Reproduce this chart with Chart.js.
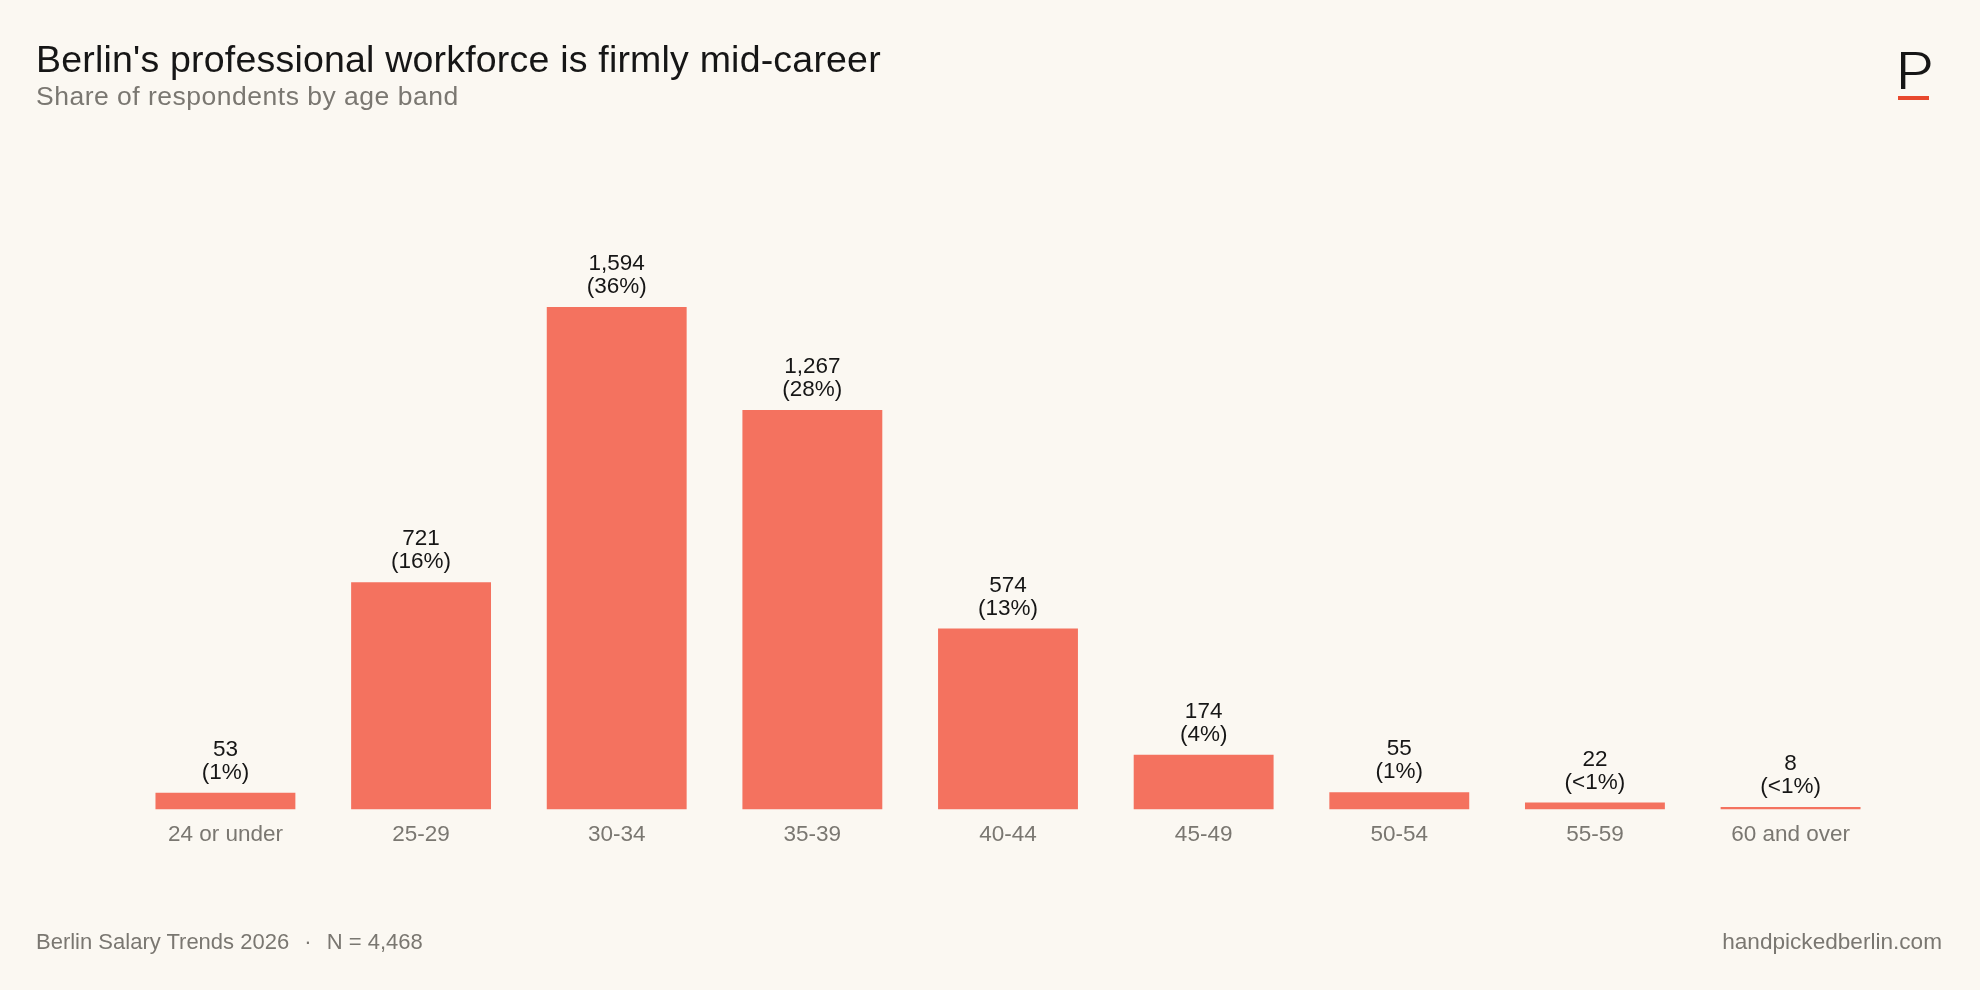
<!DOCTYPE html>
<html>
<head>
<meta charset="utf-8">
<script src="https://cdn.jsdelivr.net/npm/chart.js@4/dist/chart.umd.min.js"></script>
<style>
  html, body { margin: 0; padding: 0; background: #FBF8F2; }
  body { width: 1980px; height: 990px; position: relative; overflow: hidden; font-family: "Liberation Sans", Arial, Helvetica, sans-serif; }
  #wrap { position: absolute; left: 0; top: 0; width: 1980px; height: 990px; }
  .t { position: absolute; white-space: nowrap; line-height: 1; }
  #title { left: 36px; top: 41px; font-size: 37.5px; color: #161616; letter-spacing: 0.2px; }
  #subtitle { left: 36px; top: 83px; font-size: 26.5px; color: #7a7771; letter-spacing: 0.5px; }
  #logo { left: 1895px; top: 46px; font-family: Inter, "Noto Sans", sans-serif; font-weight: 300; font-size: 50px; color: #161616; transform: scaleX(1.25); transform-origin: left top; }
  #logoline { position: absolute; left: 1898px; top: 96px; width: 31px; height: 4px; background: #E8492E; }
  #foot-left { left: 36px; top: 931px; font-size: 22px; color: #7a7771; }
  #foot-right { right: 38px; top: 931px; font-size: 22.6px; color: #7a7771; }
  .sep { padding: 0 9px; }
</style>
</head>
<body>
<div id="wrap"><canvas id="c" width="1980" height="990"></canvas></div>
<div class="t" id="title">Berlin's professional workforce is firmly mid-career</div>
<div class="t" id="subtitle">Share of respondents by age band</div>
<div class="t" id="logo">P</div>
<div id="logoline"></div>
<div class="t" id="foot-left">Berlin Salary Trends 2026 <span class="sep">·</span> N = 4,468</div>
<div class="t" id="foot-right">handpickedberlin.com</div>
<script>
const categories = ["24 or under", "25-29", "30-34", "35-39", "40-44", "45-49", "50-54", "55-59", "60 and over"];
const respondents = [53, 721, 1594, 1267, 574, 174, 55, 22, 8];
const shareLabels = ["1%", "16%", "36%", "28%", "13%", "4%", "1%", "<1%", "<1%"];

const barLabels = {
  id: 'barLabels',
  afterDatasetsDraw(chart) {
    const ctx = chart.ctx;
    const meta = chart.getDatasetMeta(0);
    ctx.save();
    ctx.fillStyle = '#161616';
    ctx.font = '22.5px "Liberation Sans", Arial, sans-serif';
    ctx.textAlign = 'center';
    ctx.textBaseline = 'alphabetic';
    meta.data.forEach((bar, i) => {
      const v = respondents[i];
      ctx.fillText(v.toLocaleString('en-US'), bar.x, bar.y - 37);
      ctx.fillText('(' + shareLabels[i] + ')', bar.x, bar.y - 14);
    });
    ctx.restore();
  }
};

new Chart(document.getElementById('c'), {
  type: 'bar',
  data: {
    labels: categories,
    datasets: [{
      data: respondents,
      backgroundColor: '#F4725F',
      borderWidth: 0,
      barPercentage: 0.715,
      categoryPercentage: 1.0
    }]
  },
  options: {
    responsive: false,
    animation: false,
    devicePixelRatio: 1,
    layout: { padding: { left: 127.6, right: 91.6, top: 242, bottom: 130 } },
    plugins: { legend: { display: false }, tooltip: { enabled: false }, title: { display: false } },
    scales: {
      x: {
        grid: { display: false, drawTicks: false },
        border: { display: false },
        ticks: { color: '#7a7771', font: { family: '"Liberation Sans", Arial, sans-serif', size: 22.5 }, padding: 12, maxRotation: 0, autoSkip: false },
        afterFit(scale) { scale.height = 50.5; }
      },
      y: {
        display: false,
        min: 0,
        max: 1800
      }
    }
  },
  plugins: [barLabels]
});
</script>
</body>
</html>
